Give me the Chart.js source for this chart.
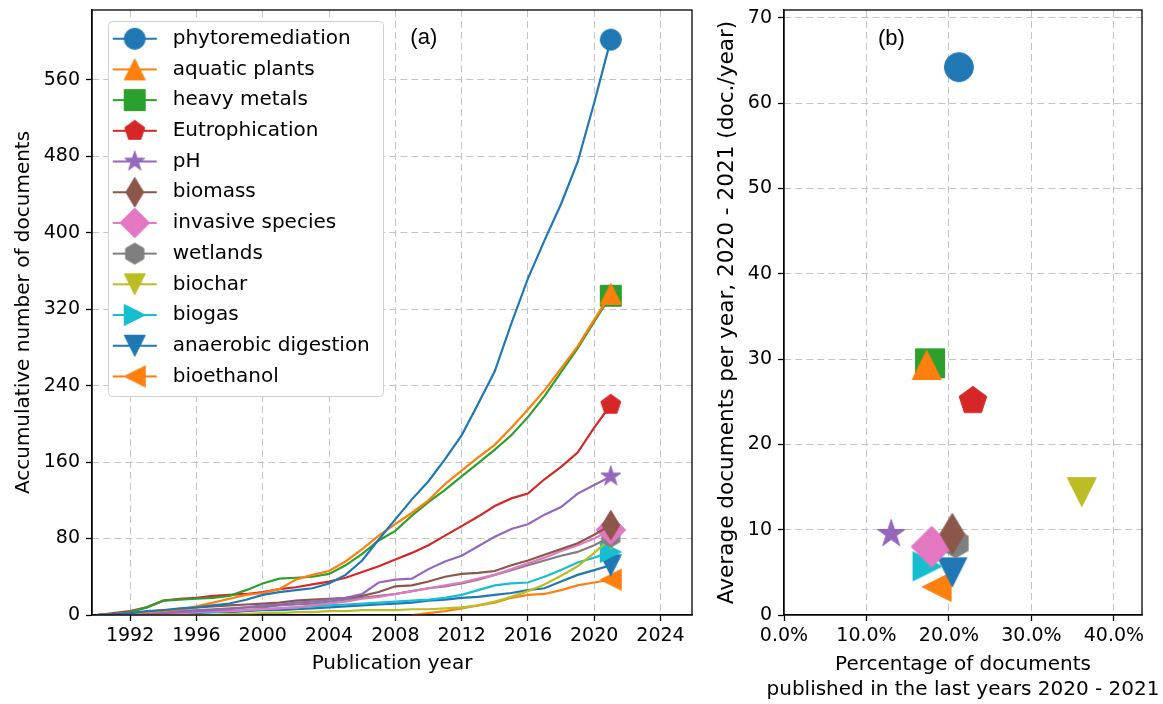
<!DOCTYPE html>
<html>
<head>
<meta charset="utf-8">
<script src="https://cdn.jsdelivr.net/npm/chart.js@4.4.0/dist/chart.umd.min.js"></script>
<style>
  body { margin: 0; background: #fff; width: 1163px; height: 704px; overflow: hidden; position: relative; }
  #leftChart { position: absolute; left: 0; top: 0; }
  #rightChart { position: absolute; left: 700px; top: 0; }
</style>
</head>
<body>
<canvas id="leftChart" width="700" height="704"></canvas>
<canvas id="rightChart" width="463" height="704"></canvas>
<script>
// data
const years = [1990, 1991, 1992, 1993, 1994, 1995, 1996, 1997, 1998, 1999,
  2000, 2001, 2002, 2003, 2004, 2005, 2006, 2007, 2008, 2009,
  2010, 2011, 2012, 2013, 2014, 2015, 2016, 2017, 2018, 2019, 2020, 2021];

const terms = ['phytoremediation', 'aquatic plants', 'heavy metals', 'Eutrophication', 'pH', 'biomass',
  'invasive species', 'wetlands', 'biochar', 'biogas', 'anaerobic digestion', 'bioethanol'];

const phytoremediation = [0, 1, 2, 4, 5, 7, 8, 10, 12, 16, 21, 24, 26, 28, 33, 42, 57, 79, 100, 121, 140, 163, 188, 221, 255, 305, 352, 392, 430, 474, 536, 602];
const aquaticPlants = [0, 1, 2, 3, 4, 6, 9, 13, 17, 21, 23, 27, 37, 42, 46, 56, 69, 83, 95, 107, 120, 137, 151, 165, 178, 196, 215, 235, 258, 281, 309, 336];
const heavyMetals = [0, 1, 3, 8, 15, 16, 17, 18, 20, 26, 33, 38, 39, 40, 43, 52, 64, 78, 88, 104, 118, 131, 145, 159, 173, 188, 207, 229, 254, 279, 307, 334];
const eutrophication = [0, 2, 4, 8, 15, 17, 18, 20, 21, 22, 24, 27, 29, 32, 35, 39, 45, 51, 58, 65, 73, 83, 93, 103, 114, 122, 127, 142, 155, 170, 196, 220];
const ph = [0, 0, 1, 1, 2, 3, 4, 5, 6, 8, 10, 11, 13, 14, 16, 18, 22, 34, 37, 38, 48, 56, 62, 72, 82, 90, 95, 105, 113, 127, 136, 145];
const biomass = [0, 1, 2, 3, 5, 6, 8, 9, 10, 11, 12, 13, 15, 16, 17, 18, 20, 24, 30, 31, 35, 40, 43, 44, 46, 52, 57, 63, 69, 75, 84, 94];
const invasiveSpecies = [0, 0, 1, 1, 2, 2, 3, 4, 4, 5, 6, 7, 8, 10, 12, 14, 17, 19, 22, 25, 28, 31, 34, 38, 42, 48, 54, 60, 67, 73, 80, 89];
const wetlands = [0, 1, 1, 2, 3, 4, 5, 6, 7, 8, 8, 10, 11, 12, 14, 16, 18, 20, 22, 25, 28, 30, 33, 37, 42, 47, 52, 57, 62, 66, 73, 82];
const biochar = [0, 0, 0, 0, 0, 0, 0, 0, 1, 1, 2, 2, 3, 3, 4, 4, 5, 5, 5, 6, 6, 7, 8, 10, 14, 19, 25, 32, 41, 51, 65, 80];
const biogas = [0, 0, 1, 1, 2, 2, 3, 3, 4, 5, 6, 7, 8, 9, 10, 11, 12, 13, 14, 15, 16, 18, 21, 26, 31, 33, 34, 40, 47, 55, 60, 66];
const anaerobicDigestion = [0, 0, 0, 1, 1, 2, 2, 3, 3, 4, 5, 5, 6, 7, 8, 9, 10, 11, 12, 13, 15, 16, 18, 19, 21, 23, 26, 28, 35, 42, 47, 52];
const bioethanol = [null, null, null, null, null, null, null, null, null, null,
  null, null, null, null, null, null, null, null, null, 0,
  2, 4, 7, 10, 13, 18, 21, 22, 26, 31, 34, 37];

// panel (b): share of documents from 2020-2021 (%) and average docs per year
const recentShare = [21.2, 17.3, 17.7, 22.9, 13.0, 20.4, 17.9, 20.8, 36.1, 17.4, 20.4, 18.5];
const recentPerYear = [64.2, 29.3, 29.5, 25.1, 9.5, 9.5, 8.0, 8.4, 14.4, 5.7, 5.0, 3.3];

const xTicksA = [1992, 1996, 2000, 2004, 2008, 2012, 2016, 2020, 2024];
const yTicksA = [0, 80, 160, 240, 320, 400, 480, 560];

const series = [phytoremediation, aquaticPlants, heavyMetals, eutrophication, ph, biomass,
  invasiveSpecies, wetlands, biochar, biogas, anaerobicDigestion, bioethanol];

const colors = ['#1f77b4', '#ff7f0e', '#2ca02c', '#d62728', '#9467bd', '#8c564b',
  '#e377c2', '#7f7f7f', '#bcbd22', '#17becf', '#1f77b4', '#ff7f0e'];
const markers = ['o', '^', 's', 'p', '*', 'd', 'D', 'h', 'v', '>', 'v', '<'];

Chart.defaults.font.family = "'DejaVu Sans', sans-serif";
Chart.defaults.color = '#000';

// marker shapes like matplotlib
function traceMarker(g, shape, cx, cy, m) {
  const h = m / 2;
  const poly = pts => { g.moveTo(cx + pts[0][0], cy + pts[0][1]); pts.slice(1).forEach(p => g.lineTo(cx + p[0], cy + p[1])); g.closePath(); };
  const regular = (n, r, inner) => {
    const pts = [];
    const k = inner ? n * 2 : n;
    for (let i = 0; i < k; i++) {
      const a = -Math.PI / 2 + i * Math.PI * 2 / k;
      const rr = inner && i % 2 ? r * inner : r;
      pts.push([Math.cos(a) * rr, Math.sin(a) * rr]);
    }
    poly(pts);
  };
  g.beginPath();
  if (shape === 'o') g.arc(cx, cy, h, 0, Math.PI * 2);
  else if (shape === 's') g.rect(cx - h, cy - h, m, m);
  else if (shape === '^') poly([[0, -h], [-h, h], [h, h]]);
  else if (shape === 'v') poly([[0, h], [-h, -h], [h, -h]]);
  else if (shape === '>') poly([[h, 0], [-h, -h], [-h, h]]);
  else if (shape === '<') poly([[-h, 0], [h, -h], [h, h]]);
  else if (shape === 'p') regular(5, h);
  else if (shape === 'h') regular(6, h);
  else if (shape === '*') regular(5, h, 0.381966);
  else if (shape === 'D') { const d = m * Math.SQRT1_2; poly([[0, -d], [d, 0], [0, d], [-d, 0]]); }
  else if (shape === 'd') { const d = m * Math.SQRT1_2; poly([[0, -d], [d * 0.6, 0], [0, d], [-d * 0.6, 0]]); }
}

function makeMarker(shape, color, m, lineLen, shift) {
  const size = Math.ceil(m * 1.5) + 4;
  const c = document.createElement('canvas');
  c.width = lineLen ? lineLen + 8 : size;
  c.height = size;
  const g = c.getContext('2d');
  const cx = c.width / 2 + (shift || 0);
  const cy = size / 2;
  if (lineLen) {
    g.strokeStyle = color;
    g.lineWidth = 2.2;
    g.beginPath();
    g.moveTo(cx - lineLen / 2, cy);
    g.lineTo(cx + lineLen / 2, cy);
    g.stroke();
  }
  traceMarker(g, shape, cx, cy, m);
  g.fillStyle = color;
  g.fill();
  g.lineWidth = 1;
  g.strokeStyle = color;
  g.stroke();
  return c;
}

const lineMarkers = markers.map((s, i) => makeMarker(s, colors[i], 21));
const legendHandles = markers.map((s, i) => makeMarker(s, colors[i], 21, 44, 2));
const scatterMarkers = markers.map((s, i) => makeMarker(s, colors[i], 29));

const gridColor = ctx => (ctx.tick && ctx.tick.value === 0) ? 'rgba(0,0,0,0)' : '#c4c4c4';

// frame on top and right, panel letters, legend box, long x title
const framePlugin = {
  id: 'frame',
  beforeDatasetsDraw(chart, args, opts) {
    const { ctx, chartArea: a } = chart;
    if (opts.legendBox) {
      const b = opts.legendBox;
      ctx.save();
      ctx.beginPath();
      ctx.roundRect(a.left + b[0] + 0.5, a.top + b[1] + 0.5, b[2], b[3], 4);
      ctx.fillStyle = '#fff';
      ctx.fill();
      ctx.strokeStyle = '#d0d0d0';
      ctx.lineWidth = 1;
      ctx.stroke();
      ctx.restore();
      chart.legend.draw();
    }
  },
  afterDraw(chart, args, opts) {
    const { ctx, chartArea: a } = chart;
    ctx.save();
    ctx.strokeStyle = '#000';
    ctx.lineWidth = 1.3;
    ctx.strokeRect(a.left, a.top, a.right - a.left, a.bottom - a.top);
    ctx.font = '22px "Liberation Sans", Arial, sans-serif';
    ctx.fillStyle = '#000';
    ctx.textAlign = 'center';
    ctx.textBaseline = 'middle';
    ctx.fillText(opts.letter, a.left + opts.letterPos[0] * (a.right - a.left), a.top + opts.letterPos[1]);
    if (opts.xTitle) {
      ctx.font = "20px 'DejaVu Sans', sans-serif";
      const cx = (a.left + a.right) / 2;
      opts.xTitle.forEach((line, i) => ctx.fillText(line, cx, opts.xTitleY + i * 25));
    }
    ctx.restore();
  }
};

function axisBase(extra) {
  return Object.assign({
    type: 'linear',
    grid: { color: gridColor, lineWidth: 1, tickColor: '#000', tickLength: 6, tickWidth: 1.3 },
    border: { display: true, color: '#000', width: 1.3, dash: [7, 4] }
  }, extra);
}

const fitY = w => s => { s.width = w; s.paddingTop = 0; s.paddingBottom = 0; };
const fitX = h => s => { s.height = h; };

// (a) accumulative documents
new Chart(document.getElementById('leftChart'), {
  type: 'line',
  data: {
    datasets: terms.map((name, i) => ({
      label: name,
      data: years.map((yr, j) => ({ x: yr, y: series[i][j] })),
      borderColor: colors[i],
      backgroundColor: colors[i],
      borderWidth: 2.2,
      tension: 0,
      pointStyle: lineMarkers[i],
      pointRadius: ctx => ctx.dataIndex === years.length - 1 ? 11 : 0,
      pointBorderWidth: 0
    }))
  },
  options: {
    responsive: false,
    animation: false,
    devicePixelRatio: 1,
    events: [],
    layout: { autoPadding: false, padding: { left: 0, top: 10, right: 8, bottom: 0 } },
    plugins: {
      tooltip: { enabled: false },
      legend: {
        position: 'chartArea',
        align: 'start',
        title: { display: true, text: ' ', font: { size: 10 }, padding: 3 },
        labels: {
          usePointStyle: true,
          pointStyleWidth: 60,
          padding: 10.7,
          color: '#000',
          font: { size: 20 },
          generateLabels: chart => chart.data.datasets.map((ds, i) => ({
            text: ds.label,
            pointStyle: legendHandles[i],
            fillStyle: colors[i],
            strokeStyle: colors[i],
            lineWidth: 0,
            hidden: false,
            datasetIndex: i,
            fontColor: '#000'
          }))
        }
      },
      frame: { letter: '(a)', letterPos: [0.553, 28], legendBox: [16, 11, 275, 375] }
    },
    scales: {
      x: axisBase({
        min: 1989.7,
        max: 2025.9,
        afterBuildTicks: s => { s.ticks = xTicksA.map(v => ({ value: v })); },
        afterFit: fitX(89),
        ticks: { font: { size: 19 }, color: '#000', padding: 4, maxRotation: 0, autoSkip: false, callback: v => String(v) },
        title: { display: true, text: 'Publication year', font: { size: 20 }, color: '#000', padding: { top: 0, bottom: 28 } }
      }),
      y: axisBase({
        min: 0,
        max: 633,
        afterBuildTicks: s => { s.ticks = yTicksA.map(v => ({ value: v })); },
        afterFit: fitY(92),
        ticks: { font: { size: 19 }, color: '#000', padding: 6, autoSkip: false, callback: v => String(v) },
        title: { display: true, text: 'Accumulative number of documents', font: { size: 20 }, color: '#000', padding: { top: 12, bottom: 0 } }
      })
    }
  },
  plugins: [framePlugin]
});

// (b) recent activity
new Chart(document.getElementById('rightChart'), {
  type: 'scatter',
  data: {
    datasets: terms.map((name, i) => ({
      label: name,
      data: [{ x: recentShare[i], y: recentPerYear[i] }],
      pointStyle: scatterMarkers[i],
      pointRadius: 15,
      pointBorderWidth: 0,
      backgroundColor: colors[i]
    }))
  },
  options: {
    responsive: false,
    animation: false,
    devicePixelRatio: 1,
    events: [],
    layout: { autoPadding: false, padding: { left: 0, top: 10, right: 21, bottom: 0 } },
    plugins: {
      tooltip: { enabled: false },
      legend: { display: false },
      frame: {
        letter: '(b)', letterPos: [0.3, 29],
        xTitle: ['Percentage of documents', 'published in the last years 2020 - 2021'], xTitleY: 665
      }
    },
    scales: {
      x: axisBase({
        min: 0,
        max: 43.4,
        afterFit: fitX(89),
        ticks: { stepSize: 10, includeBounds: false, font: { size: 19 }, color: '#000', padding: 4, maxRotation: 0, autoSkip: false, callback: v => v.toFixed(1) + '%' }
      }),
      y: axisBase({
        min: 0,
        max: 70.9,
        afterFit: fitY(84),
        ticks: { stepSize: 10, includeBounds: false, font: { size: 19 }, color: '#000', padding: 6, autoSkip: false, callback: v => String(v) },
        title: { display: true, text: 'Average documents per year, 2020 - 2021 (doc./year)', font: { size: 21.6 }, color: '#000', padding: { top: 14, bottom: 0 } }
      })
    }
  },
  plugins: [framePlugin]
});
</script>
</body>
</html>
